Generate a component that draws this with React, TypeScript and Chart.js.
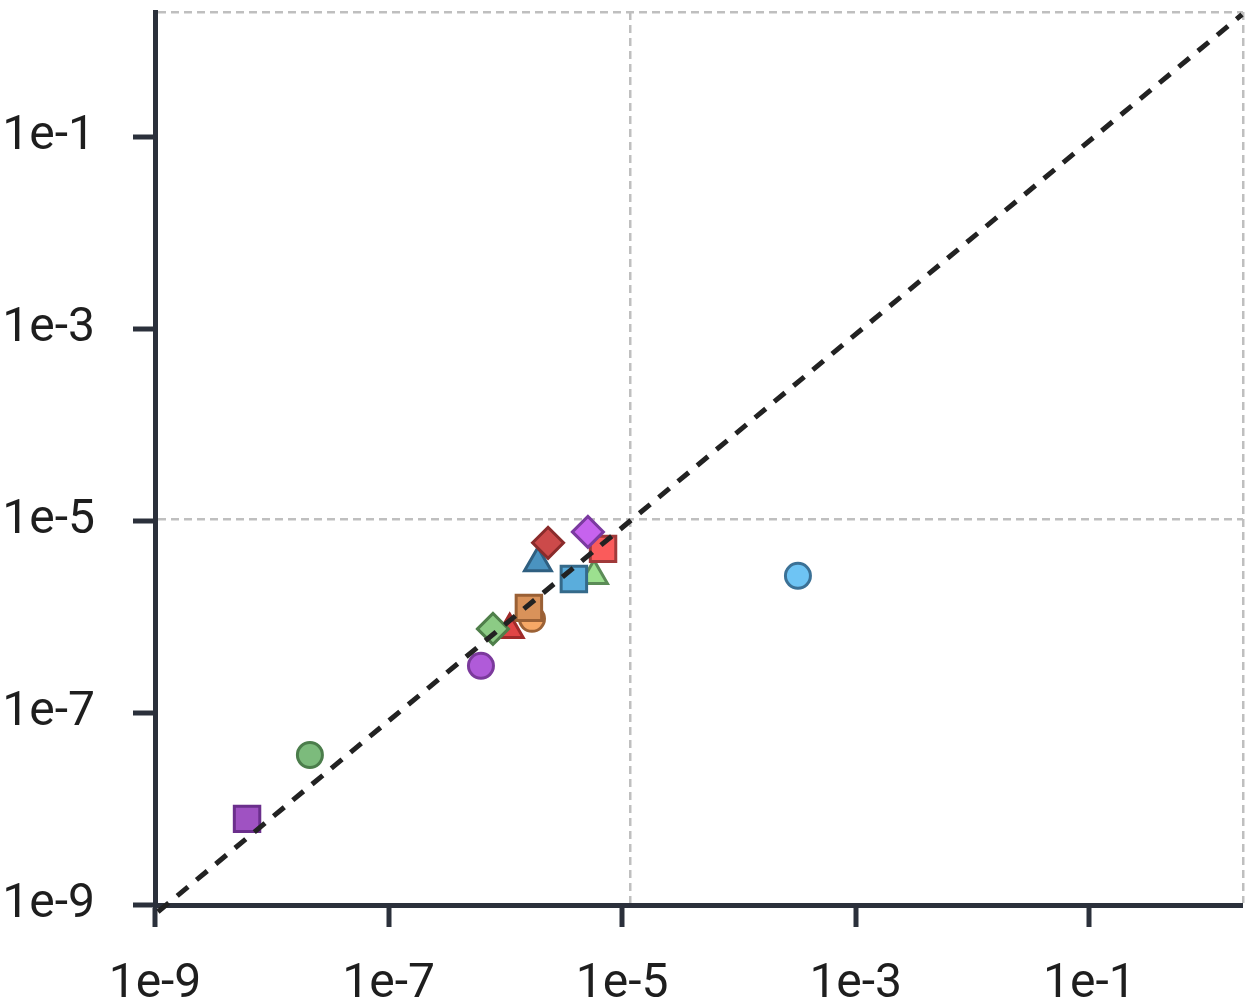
import { useEffect, useRef } from 'react';
import { Chart, registerables } from 'chart.js';

Chart.register(...registerables);

// ---- axis ticks ----
const xTickValues = [1e-9, 1e-7, 1e-5, 1e-3, 1e-1];
const xTickLabels = ['1e-9', '1e-7', '1e-5', '1e-3', '1e-1'];
const yTickValues = [1e-9, 1e-7, 1e-5, 1e-3, 1e-1];
const yTickLabels = ['1e-9', '1e-7', '1e-5', '1e-3', '1e-1'];
const xGridValues = [1.17e-5, 2.07];
const yGridValues = [1.06e-5, 2.03];
const xMin = 1e-9;
const xMax = 2.07;
const yMin = 1e-9;
const yMax = 2.03;

// ---- reference diagonal ----
const diagX = [1.06e-9, 2.03];
const diagY = [0.85e-9, 1.91];

// ---- point series (drawn bottom to top) ----
const seriesNames = [
  'S1', 'S2', 'S3', 'S4', 'S5', 'S6', 'S7',
  'S8', 'S9', 'S10', 'S11', 'S12', 'S13', 'S14',
];
const xValues = [
  6.14e-9, 2.12e-8, 6.18e-7, 1.09e-6, 7.83e-7, 1.69e-6, 1.59e-6,
  1.9e-6, 2.32e-6, 5.74e-6, 3.86e-6, 6.86e-6, 5.09e-6, 3.2e-4,
];
const yValues = [
  7.9e-9, 3.66e-8, 3.11e-7, 7.38e-7, 7.55e-7, 9.6e-7, 1.25e-6,
  3.68e-6, 5.96e-6, 2.7e-6, 2.5e-6, 5.15e-6, 7.74e-6, 2.7e-6,
];
const shapes = [
  'rect', 'circle', 'circle', 'triangle', 'rectRot', 'circle', 'rect',
  'triangle', 'rectRot', 'triangle', 'rect', 'rect', 'rectRot', 'circle',
];
const fillColors = [
  '#9f52c2', '#7cbb7c', '#b05bd9', '#e04545', '#8ccb85', '#f6a866', '#d9925a',
  '#4a93c0', '#cc4a4a', '#9ce08f', '#5aaddc', '#fa5b5b', '#c663ee', '#6ec4f4',
];
const borderColors = [
  '#6b2f8c', '#4b7d4b', '#7b3a9c', '#a02a2a', '#4f7f4a', '#9c6236', '#9a6035',
  '#2f5f80', '#8a2b2b', '#5b8c57', '#356a8a', '#a03a3a', '#7b3aa0', '#3b7196',
];

const shapeRadius: Record<string, number> = {
  circle: 12.5,
  rect: 18,
  triangle: 15.5,
  rectRot: 15.5,
};

const AXIS = '#2b303b';
const GRID = '#bfbfbf';

function makeScale(
  isX: boolean,
  min: number,
  max: number,
  tickVals: number[],
  tickLabels: string[],
  gridVals: number[],
) {
  return {
    type: 'logarithmic',
    position: isX ? 'bottom' : 'left',
    min,
    max,
    afterBuildTicks: (scale: any) => {
      scale.ticks = [...tickVals, ...gridVals]
        .sort((a, b) => a - b)
        .map((v) => ({ value: v }));
    },
    afterFit: (scale: any) => {
      if (isX) scale.height = 99;
      else scale.width = 155;
      scale.paddingLeft = 0;
      scale.paddingRight = 0;
      scale.paddingTop = 0;
      scale.paddingBottom = 0;
    },
    ticks: {
      autoSkip: false,
      maxRotation: 0,
      minRotation: 0,
      padding: isX ? 29 : 38,
      color: '#1e1e1e',
      font: { family: 'Roboto', size: 48 },
      callback: (value: any) => {
        const i = tickVals.indexOf(Number(value));
        return i >= 0 ? tickLabels[i] : '';
      },
    },
    grid: {
      display: true,
      drawOnChartArea: true,
      drawTicks: true,
      tickLength: 22,
      color: (ctx: any) =>
        ctx.tick && gridVals.includes(ctx.tick.value) ? GRID : 'rgba(0,0,0,0)',
      lineWidth: (ctx: any) =>
        ctx.tick && gridVals.includes(ctx.tick.value) ? 2.5 : 0,
      tickColor: (ctx: any) =>
        ctx.tick && tickVals.includes(ctx.tick.value) ? AXIS : 'rgba(0,0,0,0)',
      tickWidth: 5,
      tickBorderDash: [],
    },
    border: { display: true, color: AXIS, width: 5, dash: [8, 5] },
  };
}

export default function App() {
  const ref = useRef<HTMLCanvasElement | null>(null);

  useEffect(() => {
    if (!ref.current) return;
    const n = xValues.length;
    const pointSets = xValues.map((xv, i) => ({
      label: seriesNames[i],
      data: [{ x: xv, y: yValues[i] }],
      pointStyle: shapes[i],
      pointRadius: shapeRadius[shapes[i]],
      pointHoverRadius: shapeRadius[shapes[i]],
      backgroundColor: fillColors[i],
      borderColor: borderColors[i],
      pointBorderWidth: 3,
      borderWidth: 3,
      showLine: false,
      order: n + 10 - i,
    }));
    const diag = {
      label: 'y = x',
      data: diagX.map((xv, i) => ({ x: xv, y: diagY[i] })),
      showLine: true,
      pointRadius: 0,
      borderColor: '#222222',
      borderWidth: 5,
      borderDash: [14, 11],
      fill: false,
      clip: false,
      order: 0,
    };

    const chart = new Chart(ref.current, {
      type: 'scatter',
      data: { datasets: [diag, ...pointSets] as any },
      options: {
        animation: false,
        responsive: false,
        devicePixelRatio: 1,
        layout: {
          autoPadding: false,
          padding: { top: 12, right: 8, left: 0, bottom: 0 },
        },
        plugins: {
          legend: { display: false },
          tooltip: { enabled: false },
        },
        events: [],
        scales: {
          x: makeScale(true, xMin, xMax, xTickValues, xTickLabels, xGridValues) as any,
          y: makeScale(false, yMin, yMax, yTickValues, yTickLabels, yGridValues) as any,
        },
      },
    });
    return () => chart.destroy();
  }, []);

  return (
    <div
      style={{
        position: 'absolute',
        left: 0,
        top: 0,
        width: 1251,
        height: 1004,
        background: '#ffffff',
      }}
    >
      <canvas ref={ref} width={1251} height={1004} style={{ display: 'block' }} />
    </div>
  );
}
